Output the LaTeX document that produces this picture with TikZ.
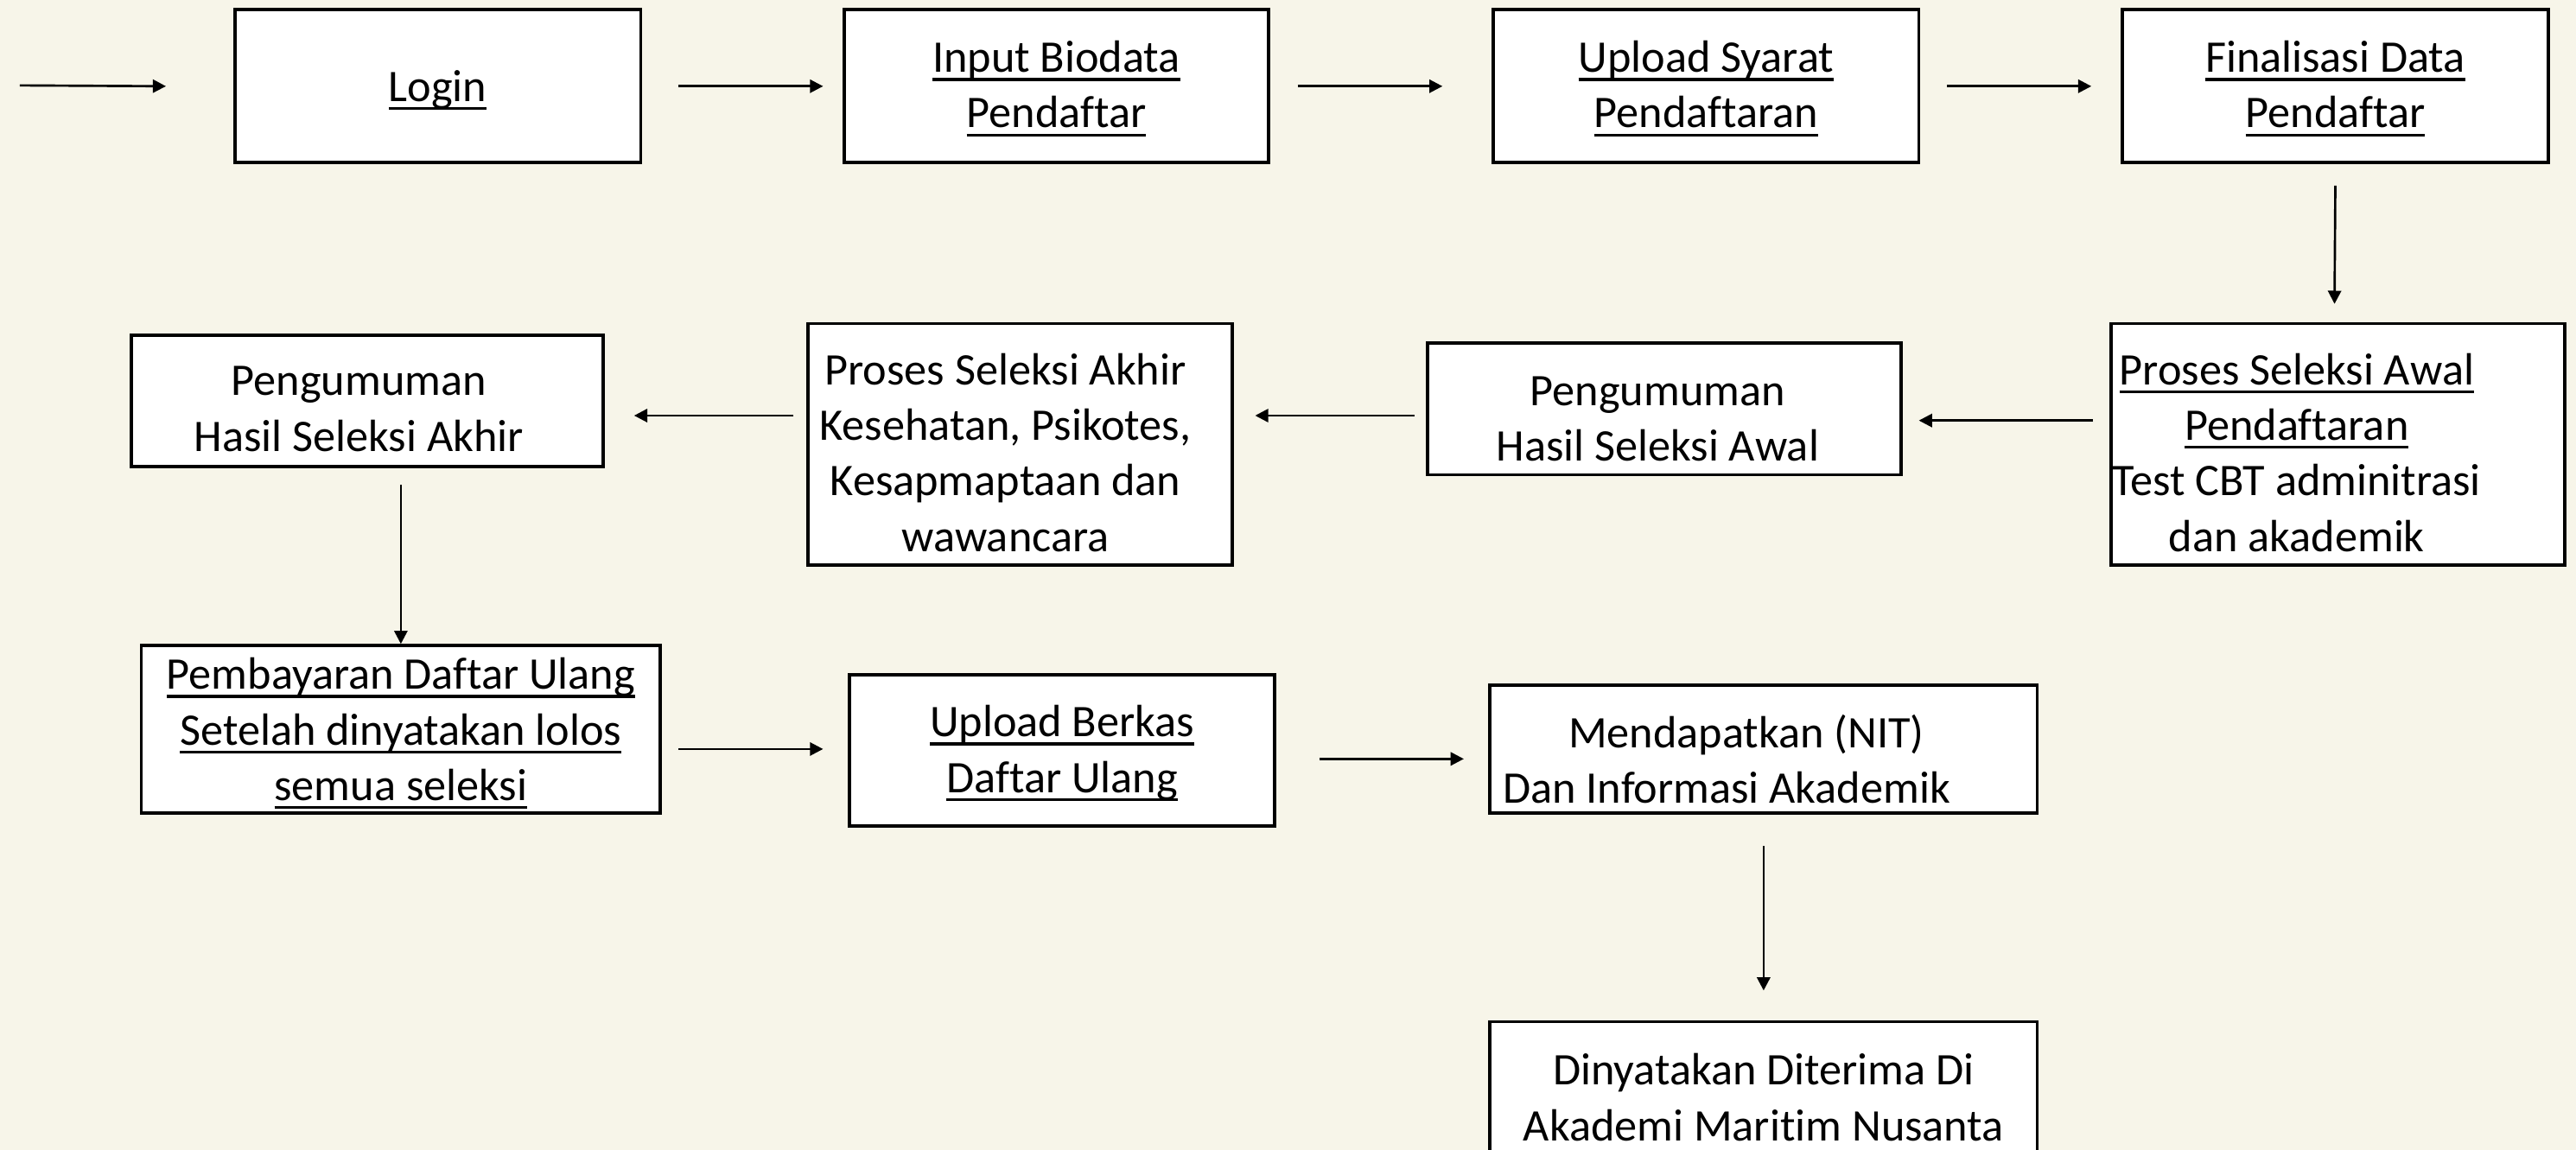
\documentclass[tikz,border=0pt]{standalone}
\usepackage{fontspec}
\setmainfont{Carlito}[Ligatures=CommonOff]
\usetikzlibrary{arrows.meta}
\definecolor{bgcream}{RGB}{247,245,233}
\newcommand{\undl}[1]{\setbox0\hbox{#1}\rlap{\rule[-5.2pt]{\wd0}{1.7pt}}\box0}
\begin{document}
\begin{tikzpicture}[x=1pt, y=-1pt,
        box/.style={draw, line width=2pt, fill=white, inner sep=0pt},
        lbl/.style={align=center, inner sep=0pt, font=\fontsize{27.5}{33.8}\selectfont},
        arr/.style={-{Triangle[length=8pt, width=8pt]}, line width=1.4pt}]
        \fill[bgcream] (0, 0) rectangle (1568, 700);
        \useasboundingbox (0, 0) rectangle (1568, 700);
        \node[box, minimum width=247pt, minimum height=93pt, label={[lbl, yshift=-2.5pt]center:{\undl{Login}}}] (login) at (266.5, 52.5) {};
        \node[box, minimum width=258pt, minimum height=93pt, label={[lbl, yshift=-1.5pt]center:{\undl{Input Biodata}\\ \undl{Pendaftar}}}] (biodata) at (643, 52.5) {};
        \node[box, minimum width=259pt, minimum height=93pt, label={[lbl, yshift=-1.5pt]center:{\undl{Upload Syarat}\\ \undl{Pendaftaran}}}] (syarat) at (1038.5, 52.5) {};
        \node[box, minimum width=259pt, minimum height=93pt, label={[lbl, yshift=-1.5pt]center:{\undl{Finalisasi Data}\\ \undl{Pendaftar}}}] (final) at (1421.5, 52.5) {};
        \node[box, minimum width=276pt, minimum height=147pt, label={[lbl, xshift=-25pt, yshift=-5pt]center:{\undl{Proses Seleksi Awal}\\ \undl{Pendaftaran}\\ Test CBT adminitrasi\\ dan akademik}}] (awal) at (1423, 270.5) {};
        \node[box, minimum width=288pt, minimum height=80pt, label={[lbl, xshift=-4pt, yshift=-6pt]center:{Pengumuman\\ Hasil Seleksi Awal}}] (hasilawal) at (1013, 249) {};
        \node[box, minimum width=258pt, minimum height=147pt, label={[lbl, xshift=-9pt, yshift=-5pt]center:{Proses Seleksi Akhir\\ Kesehatan, Psikotes,\\ Kesapmaptaan dan\\ wawancara}}] (akhir) at (621, 270.5) {};
        \node[box, minimum width=287pt, minimum height=80pt, label={[lbl, xshift=-5pt, yshift=-5pt]center:{Pengumuman\\ Hasil Seleksi Akhir}}] (hasilakhir) at (223.5, 244) {};
        \node[box, minimum width=316pt, minimum height=102pt, label={[lbl, yshift=-2.5pt]center:{\undl{Pembayaran Daftar Ulang}\\ \undl{Setelah dinyatakan lolos}\\ \undl{semua seleksi}}}] (bayar) at (244, 444) {};
        \node[box, minimum width=259pt, minimum height=92pt, label={[lbl, yshift=-1.5pt]center:{\undl{Upload Berkas}\\ \undl{Daftar Ulang}}}] (berkas) at (646.5, 457) {};
        \node[box, minimum width=333pt, minimum height=78pt, label={[lbl, xshift=-22.5pt, yshift=-6pt]center:{\rule{24pt}{0pt}Mendapatkan (NIT)\\ Dan Informasi Akademik}}] (nit) at (1073.5, 456) {};
        \node[box, minimum width=333pt, minimum height=90pt, label={[lbl, yshift=-1pt]center:{Dinyatakan Diterima Di\\ Akademi Maritim Nusanta}}] (diterima) at (1073.5, 667) {};
        \coordinate (start) at (12, 52);
        \draw[arr] (start) -- ([xshift=-41pt]login.west);
        \draw[arr] ([xshift=22pt]login.east) -- ([xshift=-12pt]biodata.west);
        \draw[arr] ([xshift=17pt]biodata.east) -- ([xshift=-30pt]syarat.west);
        \draw[arr] ([xshift=16pt]syarat.east) -- ([xshift=-18pt]final.west);
        \draw[arr] ([yshift=-13pt]final.south) -- ([xshift=-2pt, yshift=11pt]awal.north);
        \draw[arr] ([xshift=-10pt, yshift=14.5pt]awal.west) -- ([xshift=10pt, yshift=-7pt]hasilawal.east);
        \draw[arr] ([xshift=-7pt, yshift=-4pt]hasilawal.west) -- ([xshift=13pt, yshift=17.5pt]akhir.east);
        \draw[arr] ([xshift=-8pt, yshift=17.5pt]akhir.west) -- ([xshift=18pt, yshift=-9pt]hasilakhir.east);
        \draw[arr] ([xshift=20.5pt, yshift=-10pt]hasilakhir.south) -- (bayar.north);
        \draw[arr] ([xshift=10pt, yshift=-12pt]bayar.east) -- ([xshift=-15pt, yshift=1pt]berkas.west);
        \draw[arr] ([xshift=26pt, yshift=-5pt]berkas.east) -- ([xshift=-15pt, yshift=-6pt]nit.west);
        \draw[arr] ([yshift=-19pt]nit.south) -- ([yshift=18pt]diterima.north);
    \end{tikzpicture}
\end{document}
